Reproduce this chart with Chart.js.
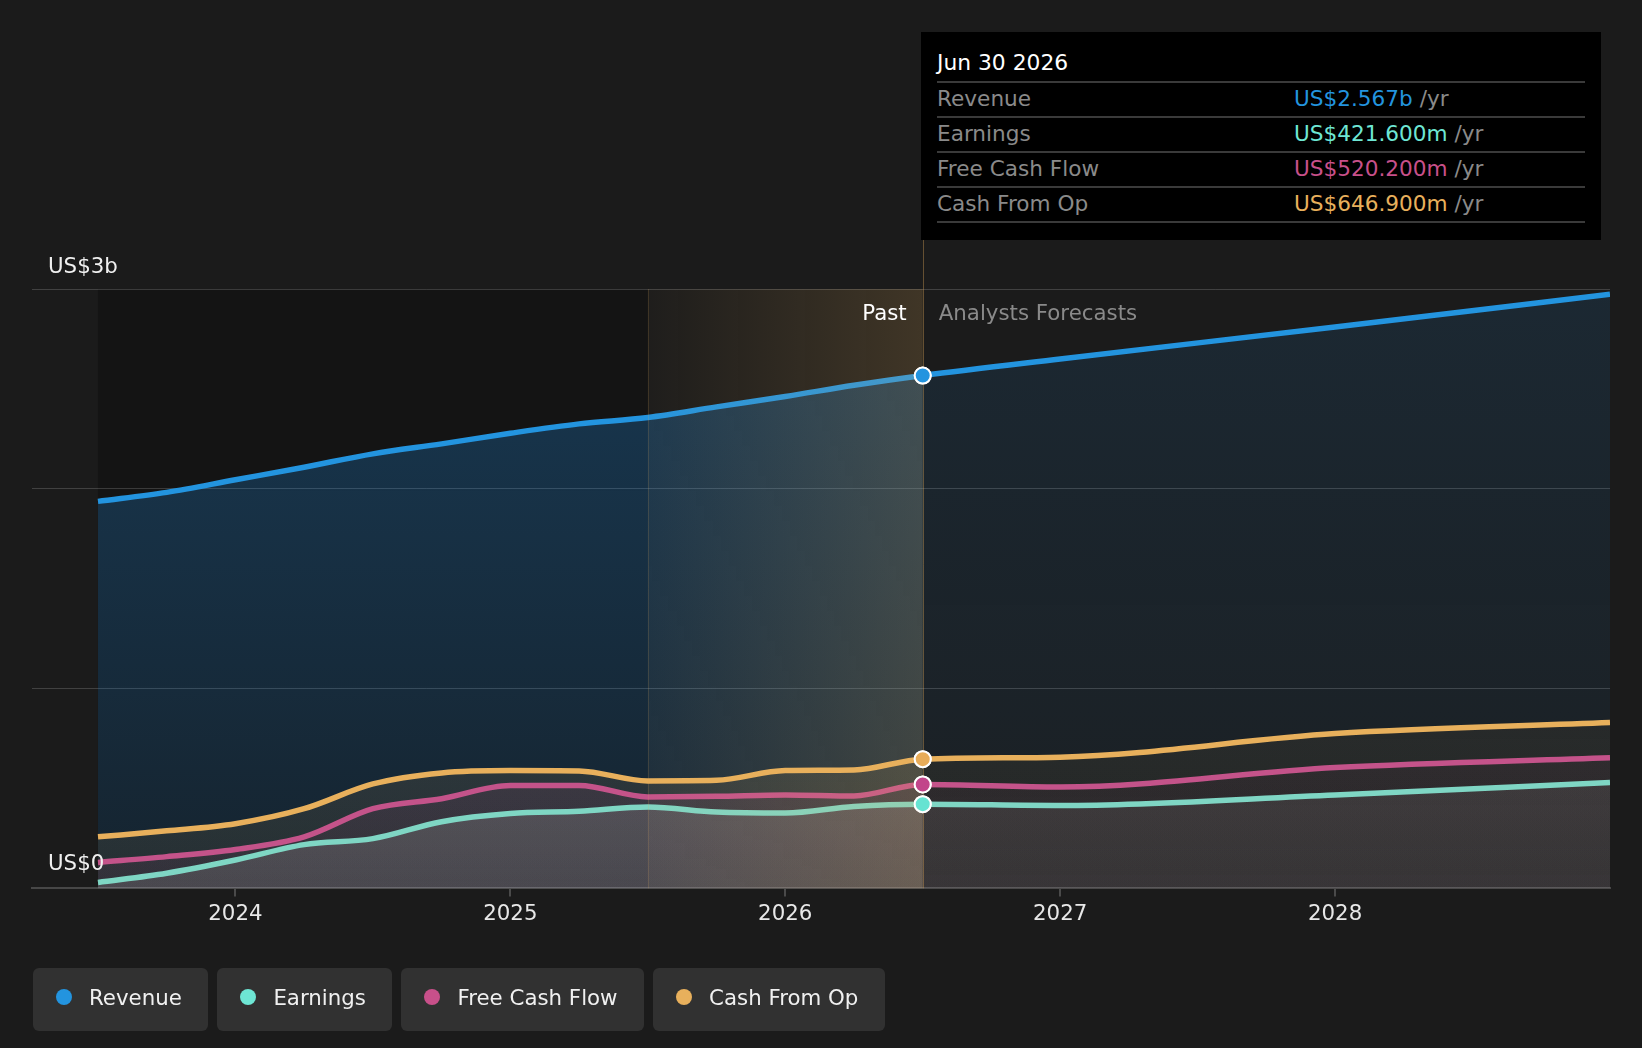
<!DOCTYPE html>
<html>
<head>
<meta charset="utf-8">
<script src="https://cdn.jsdelivr.net/npm/chart.js@4.4.1/dist/chart.umd.min.js"></script>
<style>
html,body{margin:0;padding:0;background:#1b1b1b;}
body{width:1642px;height:1048px;position:relative;overflow:hidden;font-family:'DejaVu Sans',sans-serif;}
#wrap{position:absolute;left:0;top:0;width:1642px;height:1048px;}
#tip{position:absolute;left:921px;top:32px;width:680px;height:208px;background:#000;box-sizing:border-box;padding:0 16px;}
#tip .t{height:51px;box-sizing:border-box;padding-top:18px;font-size:21.8px;line-height:26px;color:#fff;border-bottom:2px solid #3a3a3a;}
#tip .r{height:35px;box-sizing:border-box;border-bottom:2px solid #3a3a3a;display:flex;align-items:center;font-size:21.6px;line-height:26px;color:#8a8a8a;padding-bottom:2px;}
#tip .r .l{width:357px;flex:none;}
#legend{position:absolute;left:33px;top:968px;display:flex;gap:9px;}
.li{height:63px;background:#313131;border-radius:6px;display:flex;align-items:center;padding:0 26.5px 5px 23px;font-size:21.33px;color:#f0f0f0;box-sizing:border-box;}
.dot{width:16px;height:16px;border-radius:50%;margin-right:17px;flex:none;}
</style>
</head>
<body>
<div id="wrap"><canvas id="c"></canvas></div>
<div id="tip"></div>
<div id="legend"></div>
<script>
// ---------- data (US$ billions, x = decimal year) ----------
const dates        = [2023.5, 2023.75, 2024, 2024.25, 2024.5, 2024.75, 2025, 2025.25, 2025.5, 2025.75, 2026, 2026.25, 2026.5, 2027, 2028, 2029];
const revenue      = [1.937, 1.982, 2.045, 2.108, 2.175, 2.225, 2.278, 2.325, 2.357, 2.410, 2.462, 2.518, 2.567, 2.650, 2.810, 2.974];
const earnings     = [0.030, 0.076, 0.142, 0.219, 0.249, 0.334, 0.375, 0.386, 0.407, 0.382, 0.377, 0.410, 0.4216, 0.415, 0.468, 0.530];
const freeCashFlow = [0.130, 0.159, 0.195, 0.258, 0.399, 0.449, 0.515, 0.515, 0.458, 0.461, 0.468, 0.463, 0.5202, 0.508, 0.605, 0.654];
const cashFromOp   = [0.258, 0.288, 0.324, 0.399, 0.523, 0.578, 0.590, 0.588, 0.538, 0.541, 0.590, 0.593, 0.6469, 0.657, 0.775, 0.830];
const seriesNames  = ['Revenue', 'Earnings', 'Free Cash Flow', 'Cash From Op'];
const xTickValues  = [2024, 2025, 2026, 2027, 2028];
const xTickLabels  = ['2024', '2025', '2026', '2027', '2028'];
const yLabelValues = [0, 3];
const yLabelTexts  = ['US$0', 'US$3b'];
const tooltipDate  = 'Jun 30 2026';
const tipIndex     = 12;          // Jun 30 2026
const highlightStart = 2025.5;
const highlightEnd   = 2026.5;
const pastLabel = 'Past';
const forecastLabel = 'Analysts Forecasts';

// ---------- styles ----------
const FONT = "'DejaVu Sans', sans-serif";
const FS = 21.33;
const styles = [
  {line:'#2394df', point:'#2394df', rgb:'33,150,243',  past:[0.28,0.12], fut:[0.11,0.04], order:4},
  {line:'#7fd6c4', point:'#66e3d2', rgb:'212,210,204', past:[0.32,0.14], fut:[0.17,0.08], order:1},
  {line:'#c4538a', point:'#c2458a', rgb:'196,80,140',  past:[0.20,0.08], fut:[0.13,0.04], order:2},
  {line:'#e8b05c', point:'#e8ac58', rgb:'232,176,92',  past:[0.20,0.08], fut:[0.12,0.04], order:3}
];
const valueColors = ['#2394df', '#6ee6d4', '#c8508a', '#e8b05c'];
const seriesData = [revenue, earnings, freeCashFlow, cashFromOp];

// one pattern per series: vertical fade, brighter in the past part, dimmer in the forecast part
function fillPattern(chart, st) {
  const a = chart.chartArea, x = chart.scales.x;
  if (!a || !x) return 'transparent';
  const w = chart.width, h = chart.height;
  const off = document.createElement('canvas');
  off.width = w; off.height = h;
  const o = off.getContext('2d');
  const xs = x.getPixelForValue(dates[tipIndex]);
  const mk = (a0, a1) => {
    const g = o.createLinearGradient(0, a.top, 0, a.bottom);
    g.addColorStop(0, `rgba(${st.rgb},${a0})`);
    g.addColorStop(1, `rgba(${st.rgb},${a1})`);
    return g;
  };
  o.fillStyle = mk(st.past[0], st.past[1]);
  o.fillRect(0, 0, xs, h);
  o.fillStyle = mk(st.fut[0], st.fut[1]);
  o.fillRect(xs, 0, w - xs, h);
  return chart.ctx.createPattern(off, 'no-repeat');
}

const datasets = seriesData.map((vals, i) => {
  const st = styles[i];
  return {
    label: seriesNames[i],
    data: dates.map((d, k) => ({x: d, y: vals[k]})),
    borderColor: st.line,
    borderWidth: 5.5,
    fill: 'origin',
    order: st.order,
    cubicInterpolationMode: 'monotone',
    backgroundColor: c => fillPattern(c.chart, st),
    pointRadius: c => c.dataIndex === tipIndex ? 8 : 0,
    pointHoverRadius: c => c.dataIndex === tipIndex ? 8 : 0,
    pointBackgroundColor: st.point,
    pointBorderColor: '#ffffff',
    pointBorderWidth: 2
  };
});

const bgPlugin = {
  id: 'pastBg',
  beforeDraw(chart) {
    const {ctx, chartArea: a, scales: {x}} = chart;
    const x0 = x.getPixelForValue(dates[0]);
    const x1 = x.getPixelForValue(highlightStart);
    ctx.save();
    ctx.fillStyle = '#141414';
    ctx.fillRect(x0, a.top, x1 - x0, a.bottom - a.top);
    ctx.restore();
  }
};

const overlayPlugin = {
  id: 'overlay',
  afterDatasetsDraw(chart) {
    const {ctx, chartArea: a, scales: {x, y}} = chart;
    const x0 = x.getPixelForValue(highlightStart);
    const x1 = x.getPixelForValue(highlightEnd);
    ctx.save();
    const g = ctx.createLinearGradient(x0, 0, x1, 0);
    g.addColorStop(0, 'rgba(232,176,92,0.02)');
    g.addColorStop(1, 'rgba(232,176,92,0.18)');
    ctx.fillStyle = g;
    ctx.fillRect(x0, a.top, x1 - x0, a.bottom - a.top);
    // borders
    ctx.lineWidth = 1;
    ctx.strokeStyle = 'rgba(232,176,92,0.16)';
    ctx.beginPath(); ctx.moveTo(Math.round(x0) + 0.5, a.top); ctx.lineTo(Math.round(x0) + 0.5, a.bottom); ctx.stroke();
    ctx.strokeStyle = 'rgba(232,176,92,0.36)';
    ctx.beginPath(); ctx.moveTo(Math.round(x1) + 0.5, 240); ctx.lineTo(Math.round(x1) + 0.5, a.bottom); ctx.stroke();
    // Past / forecast labels
    ctx.font = `${FS}px ${FONT}`;
    ctx.textBaseline = 'alphabetic';
    ctx.textAlign = 'right';
    ctx.fillStyle = '#ffffff';
    ctx.fillText(pastLabel, x1 - 16, a.top + 31);
    ctx.textAlign = 'left';
    ctx.fillStyle = '#8a8a8a';
    ctx.fillText(forecastLabel, x1 + 16, a.top + 31);
    // y labels
    ctx.fillStyle = '#f0f0f0';
    yLabelValues.forEach((v, i) => {
      ctx.fillText(yLabelTexts[i], a.left + 16, y.getPixelForValue(v) - (v === 0 ? 18 : 16));
    });
    ctx.restore();
    // redraw highlighted points on top of the overlay
    const metas = chart.getSortedVisibleDatasetMetas();
    for (let i = metas.length - 1; i >= 0; i--) {
      const p = metas[i].data[tipIndex];
      if (p) p.draw(ctx, a);
    }
  }
};

const chart = new Chart(document.getElementById('c'), {
  type: 'line',
  data: { datasets },
  plugins: [bgPlugin, overlayPlugin],
  options: {
    responsive: true,
    maintainAspectRatio: false,
    animation: false,
    events: [],
    layout: { padding: { top: 289, left: 32, right: 32, bottom: 116 } },
    plugins: { legend: { display: false }, tooltip: { enabled: false } },
    scales: {
      x: {
        type: 'linear',
        min: 2023.26,
        max: 2029.0,
        afterBuildTicks: s => { s.ticks = xTickValues.map(v => ({value: v})); },
        ticks: {
          color: '#e8e8e8',
          font: { family: FONT, size: FS },
          padding: 5,
          maxRotation: 0,
          autoSkip: false,
          callback: v => xTickLabels[xTickValues.indexOf(v)] ?? ''
        },
        grid: { drawOnChartArea: false, drawTicks: true, tickLength: 8, color: '#4a4a4a', lineWidth: 2 },
        border: { display: true, color: '#474747', width: 2 }
      },
      y: {
        min: 0,
        max: 3,
        ticks: { display: false, stepSize: 1 },
        grid: { color: 'rgba(255,255,255,0.17)', lineWidth: 1, drawTicks: false },
        border: { display: false }
      }
    }
  }
});

// ---------- HTML tooltip and legend ----------
function fmt(v) {
  return v >= 1 ? 'US$' + v.toFixed(3) + 'b' : 'US$' + (v * 1000).toFixed(3) + 'm';
}
const tip = document.getElementById('tip');
let html = `<div class="t">${tooltipDate}</div>`;
seriesNames.forEach((n, i) => {
  html += `<div class="r"><span class="l">${n}</span><span style="color:${valueColors[i]}">${fmt(seriesData[i][tipIndex])}</span><span>&nbsp;/yr</span></div>`;
});
tip.innerHTML = html;

const legend = document.getElementById('legend');
legend.innerHTML = seriesNames.map((n, i) =>
  `<div class="li"><span class="dot" style="background:${valueColors[i]}"></span><span>${n}</span></div>`).join('');
</script>
</body>
</html>
